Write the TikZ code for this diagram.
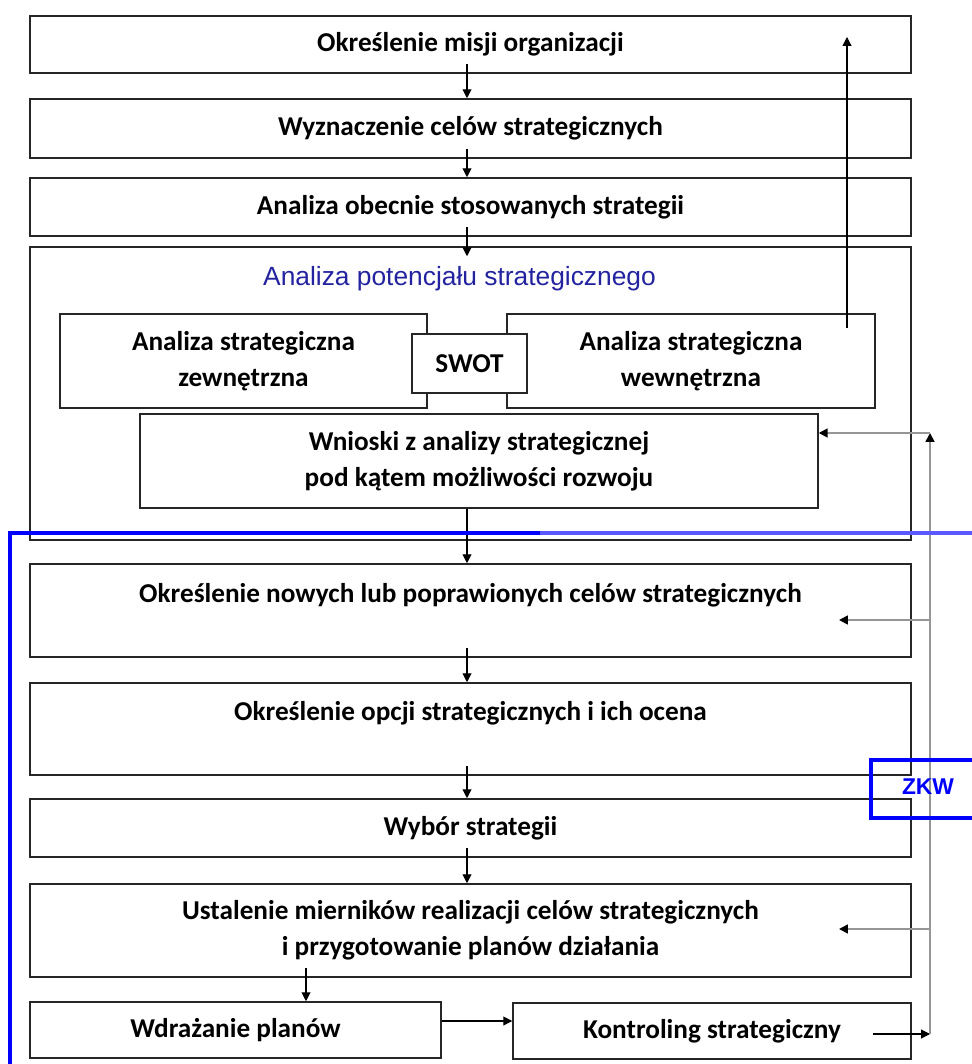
\documentclass[tikz,border=0pt]{standalone}
\usepackage{fontspec}
\setmainfont{Carlito}
\newfontfamily\arialfont{Liberation Sans}
\usetikzlibrary{arrows.meta,calc}
\definecolor{granat}{RGB}{35,35,160}
\definecolor{szary}{RGB}{150,150,150}
\begin{document}
\begin{tikzpicture}[x=0.02cm,y=-0.02cm,
  blok/.style={draw=black!85,line width=0.9pt,inner sep=0pt,align=center,font=\fontsize{15.5}{20.5}\selectfont\bfseries},
  strz/.style={-{Triangle[length=5pt,width=5pt]},line width=0.6pt},
  wlot/.style={strz,shorten <=-0.2cm},
  zwrot/.style={draw=szary,line width=1pt,-{Triangle[length=5pt,width=5pt,color=black]}},
  ramka/.style={draw=blue,line width=2pt}]
\useasboundingbox (0,0) rectangle (972,1064);
\node[blok,minimum width=17.62cm,minimum height=1.14cm] (misja) at (470.5,44.5) {Określenie misji organizacji};
\node[blok,minimum width=17.62cm,minimum height=1.18cm] (cele) at (470.5,128.5) {Wyznaczenie celów strategicznych};
\node[blok,minimum width=17.62cm,minimum height=1.16cm] (obecne) at (470.5,207) {Analiza obecnie stosowanych strategii};
\node[blok,minimum width=17.62cm,minimum height=5.86cm] (potencjal) at (470.5,393.5) {};
\node[text=granat,font=\arialfont\fontsize{15}{18}\selectfont] (tytul) at (459.5,279) {Analiza potencjału strategicznego};
\node[blok,minimum width=7.34cm,minimum height=1.88cm] (zewn) at (243.5,361) {Analiza strategiczna\\zewnętrzna};
\node[blok,minimum width=7.36cm,minimum height=1.88cm] (wewn) at (691,361) {Analiza strategiczna\\wewnętrzna};
\node[blok,fill=white,minimum width=2.3cm,minimum height=1.18cm] (swot) at (469.5,363.5) {SWOT};
\node[blok,minimum width=13.56cm,minimum height=1.88cm] (wnioski) at (479,461) {Wnioski z analizy strategicznej\\pod kątem możliwości rozwoju};
\node[blok,minimum width=17.62cm,minimum height=1.86cm] (nowe) at (470.5,610.5) {Określenie nowych lub poprawionych celów strategicznych\\ \mbox{}};
\node[blok,minimum width=17.62cm,minimum height=1.84cm] (opcje) at (470.5,729) {Określenie opcji strategicznych i ich ocena\\ \mbox{}};
\node[blok,minimum width=17.62cm,minimum height=1.16cm] (wybor) at (470.5,828) {Wybór strategii};
\node[blok,minimum width=17.62cm,minimum height=1.86cm] (mierniki) at (470.5,930.5) {Ustalenie mierników realizacji celów strategicznych\\i przygotowanie planów działania};
\node[blok,minimum width=8.22cm,minimum height=1.12cm] (wdrazanie) at (235.5,1030) {Wdrażanie planów};
\node[blok,minimum width=7.96cm,minimum height=1.12cm] (kontroling) at (712,1031) {Kontroling strategiczny};
\coordinate (os) at (467,0);
\coordinate (os2) at (306,0);
\coordinate (pz) at (0,1021);
\coordinate (kw) at (873,1034);
\coordinate (kd) at (930,1034);
\coordinate (kg) at (930,433);
\coordinate (r9) at (839,620);
\coordinate (r13) at (839,929);
\coordinate (wd) at (847,328);
\coordinate (wg) at (847,37);
\draw[wlot] (misja.south -| os) -- (cele.north -| os);
\draw[wlot] (cele.south -| os) -- (obecne.north -| os);
\draw[wlot,shorten >=-0.2cm] (obecne.south -| os) -- (potencjal.north -| os);
\draw[strz] (wnioski.south -| os) -- (nowe.north -| os);
\draw[wlot] (nowe.south -| os) -- (opcje.north -| os);
\draw[wlot] (opcje.south -| os) -- (wybor.north -| os);
\draw[wlot] (wybor.south -| os) -- (mierniki.north -| os);
\draw[wlot] (mierniki.south -| os2) -- (wdrazanie.north -| os2);
\draw[strz] (wdrazanie.east |- pz) -- (kontroling.west |- pz);
\draw[strz] (wd) -- (wg);
\draw[strz] (kw) -- (kd);
\draw[zwrot] (kd) -- (kg);
\draw[zwrot] (kg) -- (wnioski.east |- kg);
\draw[zwrot] (kd |- r9) -- (r9);
\draw[zwrot] (kd |- r13) -- (r13);
\draw[ramka] (10,1070) -- (10,533) -- (540,533);
\draw[ramka,draw=blue!65] (540,533) -- (980,533);
\draw[ramka] (980,760) -- (871,760) -- (871,818) -- (980,818);
\node[text=blue,font=\arialfont\bfseries\fontsize{13}{15}\selectfont] (zkw) at (928,787) {ZKW};
\end{tikzpicture}
\end{document}
